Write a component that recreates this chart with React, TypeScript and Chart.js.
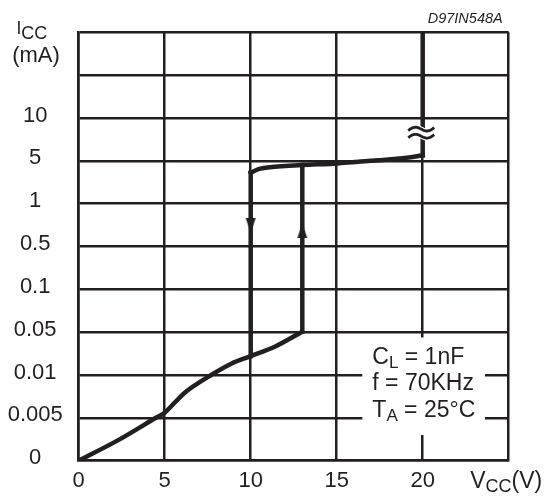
import React, { useEffect, useRef } from 'react';
import { Chart, registerables } from 'chart.js';

Chart.register(...registerables);

// ---- data (x = Vcc in volts, y = grid row index on the non-uniform Icc scale) ----
const Y_LABELS = ['0', '0.005', '0.01', '0.05', '0.1', '0.5', '1', '5', '10', '', ''];
const X_LABELS = ['0', '5', '10', '15', '20', ''];

const LOW_X = [0, 2.3, 4.44, 5, 6.2, 7.7, 8.9, 10, 11.4, 13];
const LOW_Y = [0, 0.48, 0.99, 1.12, 1.6, 2.0, 2.27, 2.44, 2.66, 3.01];

const UP_X = [13, 13];
const UP_Y = [3.01, 6.9];

const DOWN_X = [10, 10];
const DOWN_Y = [6.72, 2.44];

const HIGH_X = [10, 10.5, 11.1, 13, 15, 17, 19.2, 20];
const HIGH_Y = [6.72, 6.81, 6.85, 6.9, 6.94, 7.0, 7.08, 7.13];

const RISE_LOW_X = [20, 20];
const RISE_LOW_Y = [7.13, 7.575];
const RISE_HIGH_X = [20, 20];
const RISE_HIGH_Y = [7.74, 10];

const ARROW_X = [10, 13];
const ARROW_Y = [5.49, 5.37];
const ARROW_ROT = [180, 0];

const BREAK_X = 20;
const BREAK_Y = [7.575, 7.74];

const NOTE_LINES = [
  [{ t: 'C', sub: false }, { t: 'L', sub: true }, { t: ' = 1nF', sub: false }],
  [{ t: 'f = 70KHz', sub: false }],
  [{ t: 'T', sub: false }, { t: 'A', sub: true }, { t: ' = 25°C', sub: false }],
];
const NOTE_BOX = { x0: 16.49, x1: 23.62, y0: 2.876, y1: 0.6 };
const CODE_TEXT = 'D97IN548A';

const INK = '#231f20';
const FONT = "'Liberation Sans', Arial, Helvetica, sans-serif";

const pts = (xs: number[], ys: number[]) => xs.map((x, i) => ({ x, y: ys[i] }));

function drawRuns(
  ctx: CanvasRenderingContext2D,
  x: number,
  baseline: number,
  runs: { t: string; size: number; dy: number; style?: string }[],
) {
  let cx = x;
  for (const r of runs) {
    ctx.font = `${r.style || ''} ${r.size}px ${FONT}`;
    ctx.fillText(r.t, cx, baseline + r.dy);
    cx += ctx.measureText(r.t).width;
  }
}

const decorPlugin = {
  id: 'decor',
  afterDatasetsDraw(chart: any) {
    const ctx: CanvasRenderingContext2D = chart.ctx;
    const xs = chart.scales.x;
    const ys = chart.scales.y;
    // axis break on the Vcc = 20 V rise
    const bx = xs.getPixelForValue(BREAK_X) - 1.5;
    const yLo = ys.getPixelForValue(BREAK_Y[0]);
    const yHi = ys.getPixelForValue(BREAK_Y[1]);
    ctx.save();
    ctx.fillStyle = '#ffffff';
    ctx.fillRect(bx - 4, yHi, 11, yLo - yHi);
    const tilde = (cy: number, color: string, w: number) => {
      ctx.beginPath();
      const n = 30;
      for (let i = 0; i <= n; i++) {
        const t = i / n;
        const px = bx - 13 + 26 * t;
        const py = cy + 3 * (0.5 - t) - 2.6 * Math.sin(2 * Math.PI * t);
        if (i === 0) ctx.moveTo(px, py);
        else ctx.lineTo(px, py);
      }
      ctx.strokeStyle = color;
      ctx.lineWidth = w;
      ctx.lineCap = 'butt';
      ctx.stroke();
    };
    tilde(yHi, '#ffffff', 5);
    tilde(yLo, '#ffffff', 5);
    tilde(yHi, INK, 2.8);
    tilde(yLo, INK, 2.8);

    // conditions box
    const l = xs.getPixelForValue(NOTE_BOX.x0);
    const r = xs.getPixelForValue(NOTE_BOX.x1);
    const t = ys.getPixelForValue(NOTE_BOX.y0);
    const b = ys.getPixelForValue(NOTE_BOX.y1);
    ctx.fillStyle = '#ffffff';
    ctx.fillRect(l, t, r - l, b - t);
    ctx.fillStyle = INK;
    ctx.textAlign = 'left';
    ctx.textBaseline = 'alphabetic';
    NOTE_LINES.forEach((line, i) => {
      drawRuns(
        ctx,
        l + 10,
        t + 26.5 + i * 26.4,
        line.map((s) => ({ t: s.t, size: s.sub ? 17 : 23, dy: s.sub ? 4 : 0 })),
      );
    });
    ctx.restore();
  },
  afterDraw(chart: any) {
    const ctx: CanvasRenderingContext2D = chart.ctx;
    const area = chart.chartArea;
    ctx.save();
    ctx.fillStyle = INK;
    ctx.textBaseline = 'alphabetic';
    ctx.textAlign = 'left';
    // y axis title
    drawRuns(ctx, 16.5, area.top + 1.5, [
      { t: 'I', size: 17.5, dy: 0 },
      { t: 'CC', size: 18, dy: 5 },
    ]);
    ctx.textAlign = 'center';
    ctx.font = `22px ${FONT}`;
    ctx.fillText('(mA)', 36, area.top + 30);
    // x axis title
    ctx.textAlign = 'left';
    drawRuns(ctx, area.right - 38.5, area.bottom + 27.6, [
      { t: 'V', size: 23, dy: 0 },
      { t: 'CC', size: 18, dy: 3.4 },
      { t: '(V)', size: 23, dy: 0 },
    ]);
    // drawing code
    ctx.textAlign = 'right';
    ctx.font = `italic 14.5px ${FONT}`;
    ctx.fillText(CODE_TEXT, area.right - 6, area.top - 9);
    ctx.restore();
  },
};

function makeArrow(): HTMLCanvasElement {
  const c = document.createElement('canvas');
  c.width = 12;
  c.height = 15;
  const g = c.getContext('2d')!;
  g.fillStyle = INK;
  g.beginPath();
  g.moveTo(6, 0);
  g.lineTo(11, 15);
  g.lineTo(1, 15);
  g.closePath();
  g.fill();
  return c;
}

export default function App() {
  const ref = useRef<HTMLCanvasElement | null>(null);

  useEffect(() => {
    if (!ref.current) return;
    const arrow = makeArrow();
    const line = (data: { x: number; y: number }[], tension: number) => ({
      data,
      showLine: true,
      borderColor: INK,
      backgroundColor: INK,
      borderWidth: 4.5,
      pointRadius: 0,
      tension,
      borderCapStyle: 'square' as const,
      borderJoinStyle: 'round' as const,
      fill: false,
    });
    const chart = new Chart(ref.current, {
      type: 'scatter',
      data: {
        datasets: [
          line(pts(LOW_X, LOW_Y), 0.3),
          line(pts(UP_X, UP_Y), 0),
          line(pts(DOWN_X, DOWN_Y), 0),
          line(pts(HIGH_X, HIGH_Y), 0.3),
          line(pts(RISE_LOW_X, RISE_LOW_Y), 0),
          line(pts(RISE_HIGH_X, RISE_HIGH_Y), 0),
          {
            data: pts(ARROW_X, ARROW_Y),
            showLine: false,
            pointStyle: arrow,
            pointRadius: 7,
            rotation: ARROW_ROT,
            borderColor: INK,
            backgroundColor: INK,
          } as any,
        ],
      },
      options: {
        animation: false,
        responsive: false,
        events: [],
        layout: { padding: { top: 32.3, right: 38.3, left: 0, bottom: 0 } },
        plugins: { legend: { display: false }, tooltip: { enabled: false } },
        scales: {
          x: {
            type: 'linear',
            min: 0,
            max: 25,
            afterFit: (s: any) => {
              s.height = 38.3;
            },
            ticks: {
              stepSize: 5,
              autoSkip: false,
              maxRotation: 0,
              padding: 7,
              color: INK,
              font: { family: FONT, size: 22 },
              callback: (v: any) => X_LABELS[Math.round(Number(v) / 5)] ?? '',
            },
            grid: { color: INK, lineWidth: 2.5, drawTicks: false },
            border: { color: INK, width: 2.6 },
          },
          y: {
            type: 'linear',
            min: 0,
            max: 10,
            afterFit: (s: any) => {
              s.width = 78.7;
            },
            ticks: {
              stepSize: 1,
              autoSkip: false,
              crossAlign: 'center',
              padding: 16,
              color: INK,
              font: { family: FONT, size: 22, lineHeight: 0.23 },
              callback: (v: any) => [Y_LABELS[Math.round(Number(v))] ?? '', ''],
            },
            grid: { color: INK, lineWidth: 2.5, drawTicks: false },
            border: { color: INK, width: 2.6 },
          },
        },
      },
      plugins: [decorPlugin],
    });
    return () => chart.destroy();
  }, []);

  return (
    <div style={{ position: 'fixed', left: 0, top: 0, width: 547, height: 499, background: '#fff' }}>
      <canvas ref={ref} width={547} height={499} style={{ width: 547, height: 499, display: 'block' }} />
    </div>
  );
}
